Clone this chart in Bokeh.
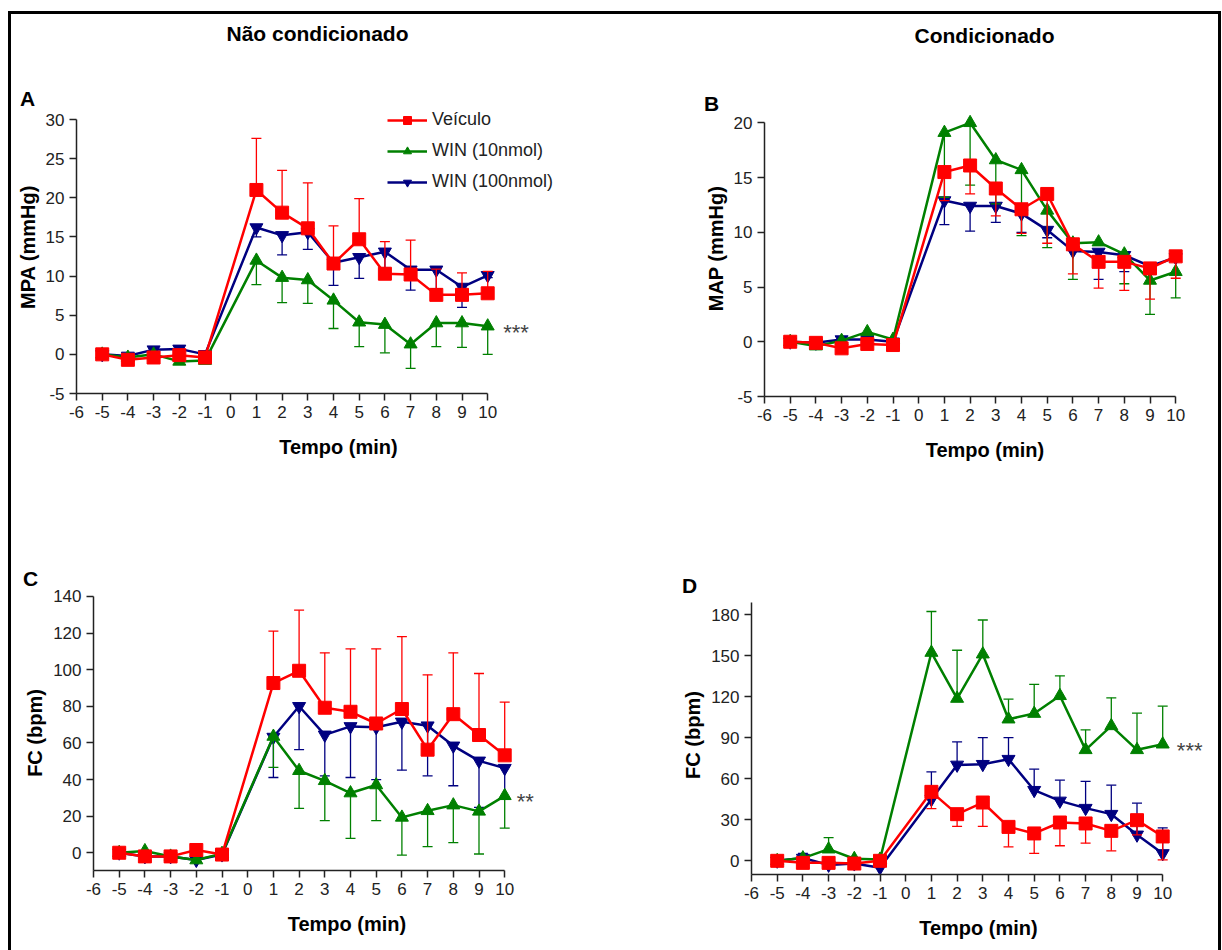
from bokeh.plotting import figure
from bokeh.models import FixedTicker, Label, Legend, LegendItem, Range1d, PrintfTickFormatter
from bokeh.layouts import row, column
from bokeh.embed import file_html
from bokeh.resources import INLINE

# ---------------- data ----------------
X = [-5, -4, -3, -2, -1, 1, 2, 3, 4, 5, 6, 7, 8, 9, 10]
X_TICKS = list(range(-6, 11))
SERIES_NAMES = ["Veículo", "WIN (10nmol)", "WIN (100nmol)"]
COLUMN_TITLES = ["Não condicionado", "Condicionado"]

# Panel A - MPA (mmHg), não condicionado
a_veh = [0, -0.7, -0.4, -0.1, -0.4, 21.0, 18.1, 16.1, 11.6, 14.7, 10.3, 10.2, 7.6, 7.6, 7.8]
a_veh_err = [0, -0.7, -0.4, -0.1, -0.4, 27.6, 23.5, 21.9, 16.4, 19.9, 14.4, 14.6, 10.9, 10.4, 10.6]
a_w10 = [0, -0.4, 0.0, -0.9, -0.8, 12.0, 9.8, 9.5, 6.9, 4.1, 3.8, 1.3, 4.0, 4.0, 3.6]
a_w10_err = [0, -0.4, 0.0, -0.9, -0.8, 8.9, 6.6, 6.5, 3.3, 1.0, 0.2, -1.8, 1.0, 0.9, 0.0]
a_w100 = [0, -0.2, 0.6, 0.7, 0.0, 16.2, 15.2, 15.6, 11.7, 12.4, 13.1, 10.8, 10.8, 8.6, 10.1]
a_w100_err = [0, -0.2, 0.6, 0.7, 0.0, 15.0, 12.7, 13.4, 8.8, 9.7, 11.0, 8.2, 8.4, 6.0, 9.8]
a_yticks = [-5, 0, 5, 10, 15, 20, 25, 30]

# Panel B - MAP (mmHg), condicionado
b_veh = [0, -0.1, -0.6, -0.2, -0.3, 15.5, 16.1, 14.0, 12.1, 13.5, 8.9, 7.3, 7.3, 6.7, 7.8]
b_veh_err = [0, -0.1, -0.6, -0.2, -0.3, 12.9, 13.5, 11.5, 9.9, 9.0, 6.2, 4.9, 4.7, 3.9, 5.8]
b_w10 = [0, -0.4, 0.1, 0.9, 0.2, 19.1, 20.0, 16.6, 15.7, 12.0, 9.0, 9.1, 8.0, 5.6, 6.4]
b_w10_err = [0, -0.4, 0.1, 0.9, 0.2, 13.2, 14.3, 12.6, 9.7, 8.6, 5.7, 9.1, 5.3, 2.5, 4.0]
b_w100 = [0, -0.1, 0.2, 0.2, 0.0, 12.9, 12.4, 12.4, 11.7, 10.2, 8.3, 8.2, 7.9, 6.9, 7.7]
b_w100_err = [0, -0.1, 0.2, 0.2, 0.0, 10.7, 10.1, 10.9, 10.0, 9.5, 8.3, 5.7, 6.4, 6.9, 7.7]
b_yticks = [-5, 0, 5, 10, 15, 20]

# Panel C - FC (bpm), não condicionado
c_veh = [0, -2, -2, 1.5, -1, 92.7, 99.4, 79.2, 77.0, 70.6, 78.5, 56.3, 75.7, 64.3, 53.2]
c_veh_err = [0, -2, -2, 1.5, -1, 121.1, 132.5, 109.2, 111.4, 111.4, 118.1, 97.2, 109.2, 97.9, 82.3]
c_w10 = [0, 1, -2, -4, -0.5, 63.5, 44.8, 39.3, 32.6, 37.0, 19.3, 22.9, 26.0, 22.6, 31.1]
c_w10_err = [0, 1, -5.3, -4, -0.5, 46.6, 24.2, 17.5, 7.8, 17.5, -1.3, 3.3, 5.5, -0.7, 13.5]
c_w100 = [0, -2, -2, -4, -1, 63.2, 80.0, 64.4, 69.0, 68.5, 71.5, 69.4, 58.4, 50.2, 46.2]
c_w100_err = [0, -2, -2, -4, -1, 41.1, 56.3, 42.0, 41.1, 39.9, 45.1, 42.0, 36.6, 24.8, 29.3]
c_yticks = [0, 20, 40, 60, 80, 100, 120, 140]

# Panel D - FC (bpm), condicionado
d_veh = [0, -1.5, -1.5, -2, 0, 50.4, 34.1, 42.6, 24.8, 20.0, 28.0, 27.3, 21.9, 29.7, 17.8]
d_veh_err = [0, -1.5, -1.5, -2, 0, 38.2, 25.1, 25.1, 10.2, 5.4, 11.0, 12.9, 7.3, 19.0, 0.7]
d_w10 = [0, 2, 8.5, 1.5, 1, 152.2, 118.6, 151.0, 103.5, 107.6, 120.6, 81.1, 98.6, 81.1, 85.2]
d_w10_err = [0, 2, 17.0, 1.5, 1, 182.2, 153.9, 176.0, 118.1, 129.0, 135.2, 95.7, 119.1, 107.9, 113.0]
d_w100 = [0, 2, -3, -2, -5, 45.0, 70.1, 70.6, 74.3, 51.6, 43.8, 38.5, 34.1, 19.0, 5.4]
d_w100_err = [0, 5.4, -3, -2, -5, 65.0, 86.9, 90.1, 90.1, 67.0, 58.9, 58.0, 55.3, 42.1, 24.1]
d_yticks = [0, 30, 60, 90, 120, 150, 180]

# significance marks (text, x, y)
a_sig = ("***", 11.1, 3.4)
c_sig = ("**", 10.8, 30.6)
d_sig = ("***", 11.05, 84.0)

# ---------------- style ----------------
FONT = "Liberation Sans"
RED, GREEN, BLUE = "#ff0000", "#008000", "#000080"
PPU = 25.7  # px per x unit


def make_panel(fw, fh, mbl, mbr, mbt, mbb, y0, ppy, ybounds, yticks, ylabel,
               veh, veh_err, w10, w10_err, w100, w100_err, letter, letter_xy,
               sig=None, legend=False, title=None, title_xy=None):
    p = figure(frame_width=fw, frame_height=fh,
               min_border_left=mbl, min_border_right=mbr,
               min_border_top=mbt, min_border_bottom=mbb,
               x_range=Range1d(-6, -6 + fw / PPU), y_range=Range1d(y0, y0 + fh / ppy),
               output_backend="svg", toolbar_location=None, tools="", title=None)
    p.outline_line_color = None
    p.grid.visible = False
    p.background_fill_color = "white"
    p.border_fill_color = "white"

    for ax in (p.xaxis[0], p.yaxis[0]):
        ax.axis_line_color = "#222222"
        ax.axis_line_width = 1.5
        ax.major_tick_line_color = "#222222"
        ax.major_tick_line_width = 1.5
        ax.major_tick_out = 7
        ax.major_tick_in = 0
        ax.minor_tick_out = 0
        ax.minor_tick_in = 0
        ax.major_label_text_font = FONT
        ax.major_label_text_font_size = "17px"
        ax.major_label_text_color = "#222222"
        ax.axis_label_text_font = FONT
        ax.axis_label_text_font_style = "bold"
        ax.axis_label_text_font_size = "20px"
        ax.axis_label_text_color = "#000000"
        ax.formatter = PrintfTickFormatter(format="%d")

    p.xaxis.ticker = FixedTicker(ticks=X_TICKS)
    p.xaxis.bounds = (-6, 10)
    p.xaxis.axis_label = "Tempo (min)"
    p.xaxis.major_label_standoff = 5
    p.xaxis.axis_label_standoff = 15

    p.yaxis.ticker = FixedTicker(ticks=yticks)
    p.yaxis.bounds = ybounds
    p.yaxis.axis_label = ylabel
    p.yaxis.major_label_standoff = 5
    p.yaxis.axis_label_standoff = 4

    items = []
    specs = [(w100, w100_err, BLUE, "inverted_triangle", 13, 2),
             (w10, w10_err, GREEN, "triangle", 13, 1),
             (veh, veh_err, RED, "square", 13, 0)]
    for vals, errs, col, mk, sz, idx in specs:
        keep = [i for i in range(len(X)) if abs(errs[i] - vals[i]) > 1e-9]
        ex = [X[i] for i in keep]
        ev = [vals[i] for i in keep]
        ee = [errs[i] for i in keep]
        p.segment(x0=ex, y0=ev, x1=ex, y1=ee, line_color=col, line_width=1.3)
        p.scatter(x=ex, y=ee, marker="dash", size=10, line_color=col, line_width=1.3)
        ln = p.line(X, vals, line_color=col, line_width=2.5)
        sc = p.scatter(X, vals, marker=mk, size=sz, fill_color=col, line_color=col)
        items.append((idx, LegendItem(label=SERIES_NAMES[idx], renderers=[ln, sc])))

    if legend:
        items.sort(key=lambda t: t[0])
        leg = Legend(items=[it for _, it in items], location=(311, 201),
                     border_line_color=None, background_fill_alpha=0,
                     label_text_font=FONT, label_text_font_size="18px",
                     label_text_color="#222222",
                     glyph_width=40, glyph_height=20, label_height=20,
                     spacing=10, padding=0, margin=0, label_standoff=5)
        p.add_layout(leg, "center")

    lx, ly = letter_xy
    p.add_layout(Label(x=lx, y=ly, x_units="canvas", y_units="canvas", text=letter,
                       text_font=FONT, text_font_style="bold", text_font_size="21px",
                       text_align="center", text_baseline="middle", text_color="#000000"),
                 "above")
    if title is not None:
        tx, ty = title_xy
        p.add_layout(Label(x=tx, y=ty, x_units="canvas", y_units="canvas", text=title,
                           text_font=FONT, text_font_style="bold", text_font_size="21px",
                           text_align="center", text_baseline="middle",
                           text_color="#000000"),
                     "above")
    if sig is not None:
        st, sx, sy = sig
        p.add_layout(Label(x=sx, y=sy, text=st, text_font=FONT, text_font_size="22px",
                           text_align="center", text_baseline="middle",
                           text_color="#444444", y_offset=-5))
    return p


# figure canvases: A/C at window x=11, B/D at x=611; top row y=14, bottom row y=484
# frames within a row share the same top border (Bokeh aligns them)
pA = make_panel(524, 293, 65, 11, 86, 91, -5, 274 / 35, (-5, 30), a_yticks,
                "MPA (mmHg)", a_veh, a_veh_err, a_w10, a_w10_err, a_w100, a_w100_err,
                "A", (16, 84), sig=a_sig, legend=True,
                title=COLUMN_TITLES[0], title_xy=(306, 19))
pB = make_panel(441, 296, 153, 13, 86, 88, -5, 273.7 / 25, (-5, 20), b_yticks, "MAP (mmHg)",
                b_veh, b_veh_err, b_w10, b_w10_err, b_w100, b_w100_err,
                "B", (100, 89), title=COLUMN_TITLES[1], title_xy=(373, 21))
pC = make_panel(507, 275, 82, 11, 111, 80, -9.7, 256.3 / 140, (-9.7, 140), c_yticks,
                "FC (bpm)", c_veh, c_veh_err, c_w10, c_w10_err, c_w100, c_w100_err,
                "C", (19, 94), sig=c_sig)
pD = make_panel(454, 279, 140, 13, 111, 76, -10, 246.3 / 180, (-10, 188.8), d_yticks,
                "FC (bpm)", d_veh, d_veh_err, d_w10, d_w10_err, d_w100, d_w100_err,
                "D", (78, 101), sig=d_sig)

grid = column(row(pA, pB, spacing=0), row(pC, pD, spacing=0), spacing=0)
root = column(grid, spacing=0, margin=(11, 0, 0, 8),
              styles={"border-left": "3px solid #000", "border-top": "3px solid #000",
                      "border-right": "3px solid #000"})

open("out.html", "w").write(file_html(root, INLINE))
